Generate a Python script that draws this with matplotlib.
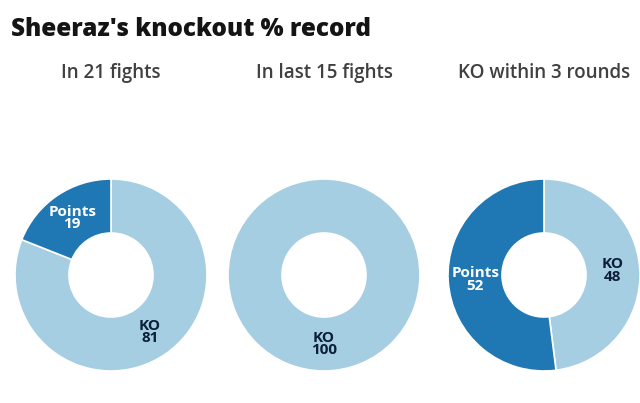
import matplotlib.pyplot as plt
import numpy as np

# Sheeraz's knockout record, three donuts
titles = ["In 21 fights", "In last 15 fights", "KO within 3 rounds"]
ko_share = [81, 100, 48]
points_share = [19, 0, 52]

KO_COLOR = "#a6cee3"
POINTS_COLOR = "#1f78b4"

W, H = 640, 403
fig = plt.figure(figsize=(W / 100, H / 100), dpi=100)
plt.rcParams["font.family"] = ["Open Sans", "DejaVu Sans"]

centers = [111, 324, 544]
cy = 275
radius = 96
hole = 42
ring = 1 - hole / radius

fig.text(11 / W, 1 - 29 / H, "Sheeraz's knockout % record", fontsize=17.5,
         fontweight="heavy", color="#141414", va="center", ha="left")

for cx, title, ko, pts in zip(centers, titles, ko_share, points_share):
    fig.text(cx / W, 1 - 73 / H, title, fontsize=13.5, fontweight="semibold",
             color="#404040", ha="center", va="center")

    ax = fig.add_axes([(cx - radius) / W, (H - cy - radius) / H,
                       2 * radius / W, 2 * radius / H])
    values = [ko, pts] if pts > 0 else [ko]
    colors = [KO_COLOR, POINTS_COLOR][: len(values)]
    wedges, _ = ax.pie(values, colors=colors, startangle=90, counterclock=False,
                       radius=1, wedgeprops=dict(width=ring, edgecolor="white",
                                                 linewidth=1.2))
    ax.set_xlim(-1, 1)
    ax.set_ylim(-1, 1)
    ax.set_aspect("equal")
    ax.axis("off")

    mid_r = (1 + hole / radius) / 2
    labels = [("KO", ko, "#0b1e3c"), ("Points", pts, "white")]
    for w, (name, val, col) in zip(wedges, labels):
        ang = np.deg2rad((w.theta1 + w.theta2) / 2)
        ax.text(mid_r * np.cos(ang), mid_r * np.sin(ang), f"{name}\n{val}",
                ha="center", va="center", fontsize=11, fontweight="bold",
                color=col, linespacing=0.85)

fig.savefig("out.png", dpi=100)
